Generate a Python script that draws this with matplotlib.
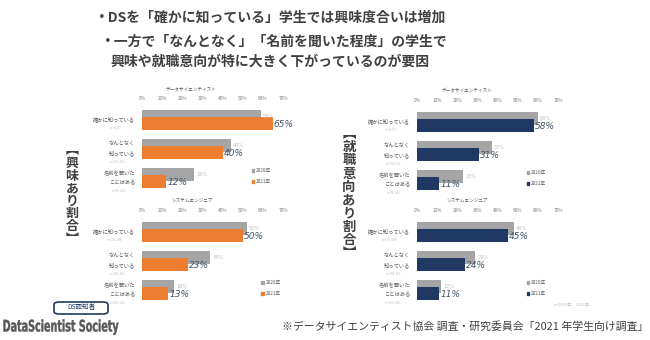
import matplotlib
matplotlib.use('Agg')
import matplotlib.pyplot as plt
from matplotlib.patches import Patch, FancyBboxPatch, PathPatch
from matplotlib.textpath import TextPath
from matplotlib.font_manager import FontProperties
from matplotlib.transforms import Affine2D

plt.rcParams['font.family'] = ['Noto Sans CJK JP', 'DejaVu Sans']

W, H = 650, 340

# 回答データ（%）
cats = ['確かに知っている', 'なんとなく\n知っている', '名前を聞いた\nことはある']
years = ['2020年', '2021年']

int_ds_2020 = [59, 44, 26]
int_ds_2021 = [65, 40, 12]
int_se_2020 = [52, 34, 16]
int_se_2021 = [50, 23, 13]

job_ds_2020 = [60, 37, 23]
job_ds_2021 = [58, 31, 11]
job_se_2020 = [48, 29, 12]
job_se_2021 = [45, 24, 11]

n_ds = ['n=96,87', 'n=170,111', 'n=98,142']
n_se = ['n=106,108', 'n=203,161', 'n=186,145']

ticks = [0, 10, 20, 30, 40, 50, 60, 70]
tick_labels = [f'{t}%' for t in ticks]

title_lines = ['・DSを「確かに知っている」学生では興味度合いは増加',
               '・一方で「なんとなく」「名前を聞いた程度」の学生で',
               '興味や就職意向が特に大きく下がっているのが要因']
side_int = '︻興味あり割合︼'
side_job = '︻就職意向あり割合︼'

GRAY = '#A5A5A5'
ORANGE = '#ED7D31'
NAVY = '#203864'
VAL = '#44546A'
TXT = '#404040'


def fx(x):
    return x / W


def fy(y):
    return 1 - y / H


fig = plt.figure(figsize=(W / 100, H / 100), dpi=100)


def panel(x0, y0, title, tx, ty, v20, v21, color, nlabs, leg):
    # 棒グラフ1枚分（0-70% を 141px に）
    ax = fig.add_axes([fx(x0), fy(y0 + 87), 141 / W, 87 / H])
    pos = list(range(len(cats)))
    ax.barh([p - 0.12 for p in pos], v20, height=0.45, color=GRAY, zorder=2)
    ax.barh([p + 0.12 for p in pos], v21, height=0.45, color=color, zorder=3)
    ax.set_xlim(0, 70)
    ax.set_ylim(2.5, -0.5)
    ax.xaxis.tick_top()
    ax.set_xticks(ticks)
    ax.set_xticklabels(tick_labels, fontsize=3.4, color='#808080')
    ax.tick_params(axis='x', length=0, pad=3.5)
    ax.set_yticks([])
    for s in ax.spines.values():
        s.set_visible(False)

    for p, a, b in zip(pos, v20, v21):
        ax.annotate(f'{a}%', (a, p - 0.12), xytext=(2, 0), textcoords='offset pixels',
                    va='center', ha='left', fontsize=3.6, color='#BFBFBF',
                    family='DejaVu Sans')
        ax.annotate(f'{b}%', (b, p + 0.12), xytext=(1, -1), textcoords='offset pixels',
                    va='center', ha='left', fontsize=6.5, color=VAL,
                    style='italic', family='DejaVu Sans')

    # カテゴリ名と n 数
    for p, c, n in zip(pos, cats, nlabs):
        lines = c.split('\n')
        k = len(lines)
        for j, line in enumerate(lines):
            off = (j - (k - 1) / 2) * 10
            ax.annotate(line, (0, p), xycoords=('axes fraction', 'data'),
                        xytext=(-7, -off), textcoords='offset pixels',
                        ha='right', va='center', fontsize=3.8, color='#595959')
        ax.annotate(n, (0, p), xycoords=('axes fraction', 'data'),
                    xytext=(-20 if k == 1 else -16, -7 if k == 1 else -12),
                    textcoords='offset pixels',
                    ha='right', va='center', fontsize=2.4, color='#BFBFBF')

    fig.text(fx(tx), fy(ty), title, ha='center', va='center',
             fontsize=3.3, color='#595959')

    handles = [Patch(color=GRAY, label=years[0]), Patch(color=color, label=years[1])]
    ax.legend(handles=handles, loc='center left', bbox_to_anchor=leg,
              frameon=False, fontsize=3.4, handlelength=0.6, handleheight=0.6,
              handletextpad=0.3, labelspacing=1.3, borderpad=0,
              labelcolor='#595959')
    return ax


panel(142, 105.5, 'データサイエンティスト', 191, 90,
      int_ds_2020, int_ds_2021, ORANGE, n_ds, (0.76, 0.19))
panel(142, 217.5, 'システムエンジニア', 192, 201,
      int_se_2020, int_se_2021, ORANGE, n_se, (0.83, 0.19))
panel(417, 107.5, 'データサイエンティスト', 467, 91,
      job_ds_2020, job_ds_2021, NAVY, n_ds, (0.76, 0.19))
panel(417, 217.5, 'システムエンジニア', 467, 201,
      job_se_2020, job_se_2021, NAVY, n_se, (0.76, 0.19))

# 見出し
for line, x, y in zip(title_lines, [271, 274, 270], [18, 42, 62]):
    fig.text(fx(x), fy(y), line, ha='center', va='center',
             fontsize=10, fontweight='bold', color=TXT)

# 縦書きラベル
for i, ch in enumerate(side_int):
    fig.text(fx(72), fy(150.3 + i * 12.6), ch, ha='center', va='center',
             fontsize=9.3, fontweight='bold', color=TXT)
for i, ch in enumerate(side_job):
    fig.text(fx(349), fy(133.7 + i * 13.3), ch, ha='center', va='center',
             fontsize=9.6, fontweight='bold', color=TXT)

fig.text(fx(572), fy(305), 'n=2020年、2021年', ha='center', va='center',
         fontsize=3, color='#BFBFBF')

# フッター
box = FancyBboxPatch((fx(54), fy(314)), fx(54), 12 / H,
                     boxstyle='round,pad=0,rounding_size=0.008',
                     transform=fig.transFigure, fill=False,
                     edgecolor=NAVY, linewidth=1.2)
fig.patches.append(box)
fig.text(fx(81), fy(307.5), 'DS認知者', ha='center', va='center',
         fontsize=4.8, color=NAVY)

# ロゴ文字は横方向に詰めて描く
logo = TextPath((0, 0), 'DataScientist Society', size=1,
                prop=FontProperties(family='DejaVu Sans', weight='bold'))
ext = logo.get_extents()
sx = 115 / ext.width
sy = 16.0
logo_tr = Affine2D().translate(-ext.x0, 0).scale(sx, sy).translate(3.5, H - 331.5)
fig.patches.append(PathPatch(logo, transform=logo_tr,
                             facecolor='#595959', edgecolor='#595959',
                             linewidth=0.3))

fig.text(fx(648), fy(326), '※データサイエンティスト協会 調査・研究委員会「2021 年学生向け調査」',
         ha='right', va='center', fontsize=7.85, color=TXT)

fig.savefig('out.png', dpi=100)
